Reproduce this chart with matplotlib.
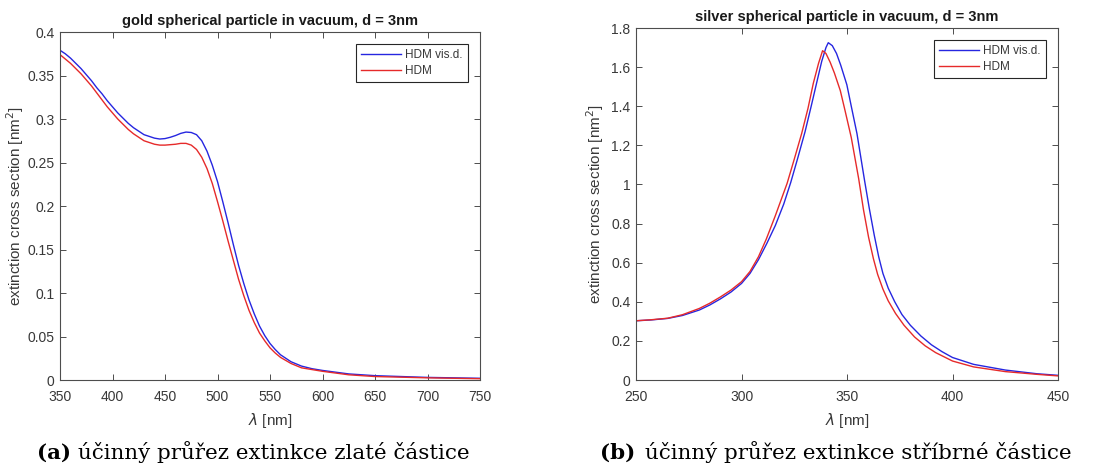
import matplotlib
matplotlib.use('Agg')
import matplotlib.pyplot as plt
from matplotlib.ticker import FuncFormatter

plt.rcParams['font.family'] = ['Liberation Sans', 'DejaVu Sans']

# gold particle, extinction cross section [nm^2]
gold_wl = [350, 355, 360, 365, 370, 375, 380, 385, 390, 395, 400, 405, 410, 415,
           420, 425, 430, 435, 440, 445, 450, 455, 460, 465, 470, 475, 480, 485,
           490, 495, 500, 505, 510, 515, 520, 525, 530, 535, 540, 545, 550, 555,
           560, 570, 580, 590, 600, 625, 650, 700, 750]
gold_visd = [0.379, 0.375, 0.370, 0.364, 0.358, 0.351, 0.344, 0.336, 0.329, 0.321,
             0.314, 0.307, 0.301, 0.295, 0.290, 0.286, 0.282, 0.280, 0.278, 0.277,
             0.2775, 0.279, 0.281, 0.2835, 0.285, 0.2845, 0.282, 0.275, 0.263, 0.247,
             0.228, 0.205, 0.181, 0.156, 0.132, 0.111, 0.092, 0.076, 0.062, 0.051,
             0.042, 0.035, 0.029, 0.021, 0.016, 0.013, 0.011, 0.007, 0.005, 0.003, 0.002]
gold_hdm = [0.374, 0.369, 0.364, 0.358, 0.352, 0.345, 0.338, 0.330, 0.322, 0.314,
            0.307, 0.300, 0.294, 0.288, 0.283, 0.279, 0.275, 0.273, 0.271, 0.270,
            0.270, 0.2705, 0.271, 0.272, 0.272, 0.270, 0.265, 0.256, 0.243, 0.226,
            0.205, 0.183, 0.160, 0.138, 0.116, 0.097, 0.080, 0.066, 0.054, 0.045,
            0.037, 0.031, 0.026, 0.019, 0.014, 0.012, 0.010, 0.006, 0.004, 0.0025, 0.0015]

# silver particle
silver_wl_visd = [250, 257, 265, 272, 280, 285, 290, 295, 300, 304, 308, 312, 316,
                  320, 323.3, 326.5, 330.1, 333, 335.6, 338, 340, 341.1, 343, 345,
                  347, 349.9, 352, 354.7, 358.3, 360.5, 362.9, 365, 367, 369.5, 372.6,
                  376, 380, 385, 390, 395, 400, 410, 425, 440, 450]
silver_visd = [0.303, 0.307, 0.315, 0.330, 0.358, 0.384, 0.415, 0.450, 0.494, 0.545,
               0.615, 0.699, 0.790, 0.900, 1.010, 1.130, 1.270, 1.400, 1.520, 1.630,
               1.700, 1.725, 1.710, 1.670, 1.610, 1.510, 1.400, 1.260, 1.020, 0.880,
               0.740, 0.630, 0.545, 0.470, 0.400, 0.335, 0.280, 0.225, 0.180, 0.145,
               0.115, 0.080, 0.051, 0.032, 0.024]
silver_wl_hdm = [250, 257, 265, 272, 280, 285, 290, 295, 300, 304, 308, 311.7, 316,
                 321.6, 325, 328.5, 331.5, 334, 336.5, 338.4, 340, 342, 344, 346.8,
                 349, 352, 355.5, 357.8, 360.2, 362.5, 364.5, 367, 369.5, 373, 377,
                 382, 387, 392, 400, 410, 425, 440, 450]
silver_hdm = [0.303, 0.308, 0.316, 0.334, 0.366, 0.393, 0.425, 0.460, 0.503, 0.555,
              0.630, 0.720, 0.840, 1.006, 1.130, 1.261, 1.390, 1.517, 1.620, 1.684,
              1.670, 1.625, 1.570, 1.480, 1.380, 1.240, 1.030, 0.870, 0.730, 0.620,
              0.540, 0.465, 0.405, 0.340, 0.280, 0.220, 0.175, 0.140, 0.097, 0.067,
              0.043, 0.029, 0.021]

blue = '#2626e0'
red = '#e62a2a'
axcol = '0.3'
txtcol = '0.22'

fig = plt.figure(figsize=(11.01, 4.68), dpi=100)
ax1 = fig.add_axes([0.0545, 0.188, 0.3815, 0.7436])
ax2 = fig.add_axes([0.5777, 0.188, 0.3833, 0.7521])


def style(ax):
    for s in ax.spines.values():
        s.set_color(axcol)
        s.set_linewidth(0.8)
    ax.tick_params(direction='in', top=True, right=True, length=4, width=0.7,
                   color=axcol, labelcolor=txtcol, labelsize=10)
    ax.tick_params(axis='x', pad=7)
    ax.tick_params(axis='y', pad=4)
    ax.yaxis.set_major_formatter(FuncFormatter(lambda v, p: '%g' % round(v, 3)))


ax1.plot(gold_wl, gold_visd, color=blue, lw=1.0, label='HDM vis.d.')
ax1.plot(gold_wl, gold_hdm, color=red, lw=1.0, label='HDM')
ax1.set_xlim(350, 750)
ax1.set_ylim(0, 0.4)
ax1.set_xticks(range(350, 751, 50))
ax1.set_yticks([0, 0.05, 0.1, 0.15, 0.2, 0.25, 0.3, 0.35, 0.4])
ax1.set_title('gold spherical particle in vacuum, d = 3nm', fontsize=10.5,
              fontweight='bold', color='0.1', pad=5)

ax2.plot(silver_wl_visd, silver_visd, color=blue, lw=1.0, label='HDM vis.d.')
ax2.plot(silver_wl_hdm, silver_hdm, color=red, lw=1.0, label='HDM')
ax2.set_xlim(250, 450)
ax2.set_ylim(0, 1.8)
ax2.set_xticks(range(250, 451, 50))
ax2.set_yticks([0, 0.2, 0.4, 0.6, 0.8, 1, 1.2, 1.4, 1.6, 1.8])
ax2.set_title('silver spherical particle in vacuum, d = 3nm', fontsize=10.5,
              fontweight='bold', color='0.1', pad=5)

for ax in (ax1, ax2):
    style(ax)
    ax.set_xlabel(r'$\lambda$ [nm]', fontsize=11, color=txtcol, labelpad=5)
    ax.set_ylabel(r'extinction cross section [nm$^2$]', fontsize=11, color=txtcol)
    leg = ax.legend(loc='upper right', fontsize=8.5, fancybox=False, framealpha=1,
                    edgecolor='0.15', borderpad=0.45, handlelength=3.4,
                    handletextpad=0.35, labelspacing=0.3, borderaxespad=1.0)
    leg.get_frame().set_linewidth(0.8)
    for t in leg.get_texts():
        t.set_color(txtcol)

ax1.yaxis.set_label_coords(-0.08, 0.5)
ax2.yaxis.set_label_coords(-0.071, 0.5)

cap_font = ['DejaVu Serif']
cap_y = 0.02
fig.text(0.0336, cap_y, '(a)', fontsize=15.4, fontweight='bold', family=cap_font,
         ha='left', va='baseline')
fig.text(0.0708, cap_y, 'účinný průřez extinkce zlaté částice', fontsize=15.4,
         family=cap_font, ha='left', va='baseline')
fig.text(0.545, cap_y, '(b)', fontsize=15.4, fontweight='bold', family=cap_font,
         ha='left', va='baseline')
fig.text(0.5858, cap_y, 'účinný průřez extinkce stříbrné částice', fontsize=15.4,
         family=cap_font, ha='left', va='baseline')

fig.savefig('out.png', dpi=100)
